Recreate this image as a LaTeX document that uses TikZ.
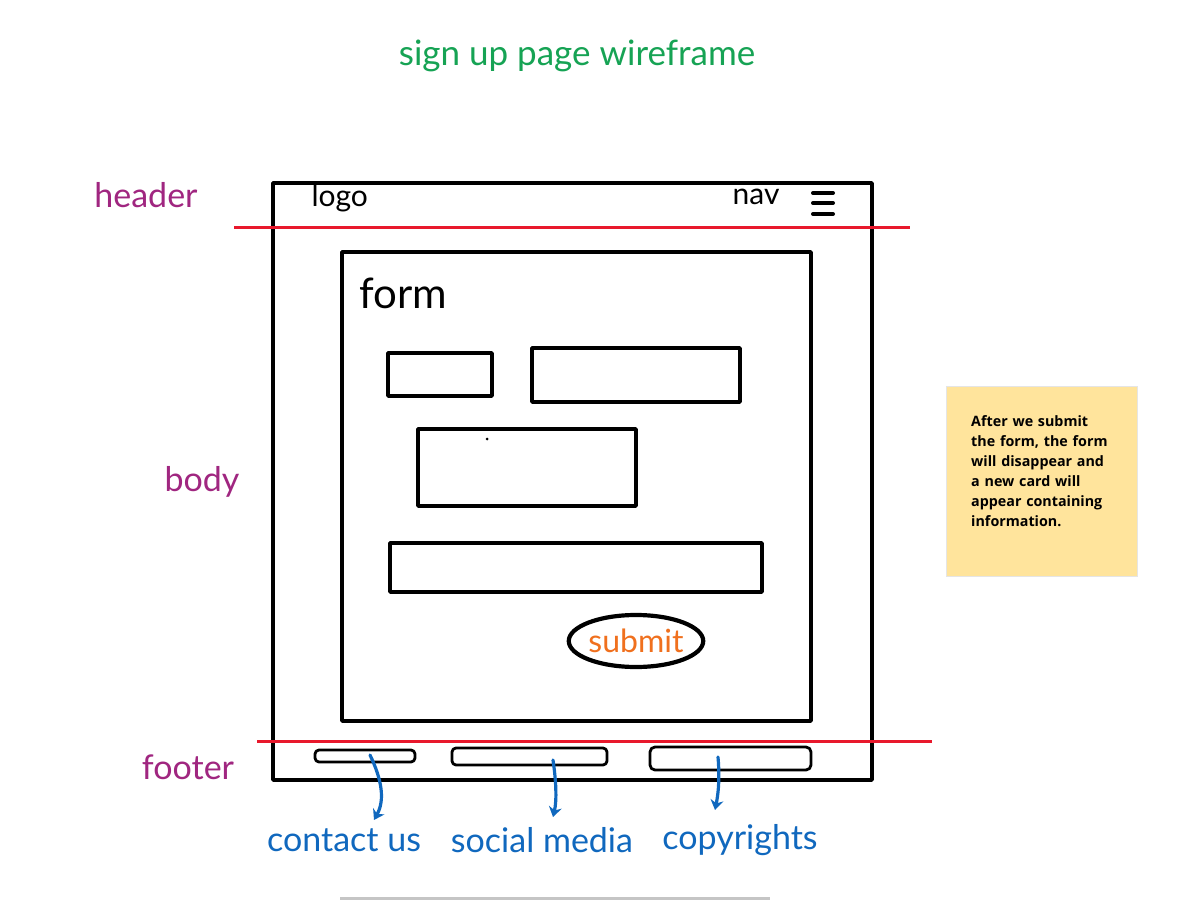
\documentclass[tikz,border=0pt]{standalone}
\usepackage{fontspec}
\setmainfont{Lato}
\newfontfamily\notefont{Open Sans}
\usetikzlibrary{arrows.meta,shapes.geometric,shadows}
\definecolor{titlegreen}{RGB}{22,163,84}
\definecolor{labelpurple}{RGB}{160,38,128}
\definecolor{rulered}{RGB}{232,24,44}
\definecolor{noteblue}{RGB}{16,104,190}
\definecolor{btnorange}{RGB}{240,112,30}
\definecolor{stickyfill}{RGB}{255,228,156}
\tikzset{
  sketch/.style={draw=black,line width=3.6pt,line cap=round,line join=round},
  thinsketch/.style={draw=black,line width=2.8pt,line cap=round,line join=round},
  divider/.style={draw=rulered,line width=3pt},
  side/.style={text=labelpurple,font=\fontsize{34}{34}\selectfont,anchor=center},
  hand/.style={text=black,font=\fontsize{30}{30}\selectfont},
  foot/.style={text=noteblue,font=\fontsize{34}{34}\selectfont},
  pointer/.style={draw=noteblue,line width=3.2pt,line cap=round,-{Stealth[length=10pt,width=13pt]}},
}
\begin{document}
\begin{tikzpicture}[x=1pt,y=-1pt]
\useasboundingbox (0,0) rectangle (1194,904);
\fill[white] (0,0) rectangle (1194,904);

% title
\node[text=titlegreen,font=\fontsize{35}{35}\selectfont] (title) at (577,56) {sign up page wireframe};

% page frame
\draw[sketch] (273,183) rectangle (872,780);

% header content
\node[hand,anchor=west] (logo) at (308,198) {logo};
\node[hand,anchor=east] (nav) at (783,197) {nav};
\draw[sketch,line width=4pt] (813,193) -- (833,193) (813,203) -- (833,203) (813,214) -- (833,214);

% section dividers
\coordinate (hdrL) at (234,228);
\coordinate (hdrR) at (910,228);
\draw[divider] (hdrL) -- (hdrR);
\coordinate (ftrL) at (257,741);
\coordinate (ftrR) at (932,741);
\draw[divider] (ftrL) -- (ftrR);

% section labels
\node[side] (lblheader) at (146,195) {header};
\node[side] (lblbody) at (202,482) {body};
\node[side] (lblfooter) at (188,767) {footer};

% form card
\draw[sketch] (342,252) rectangle (811,721);
\node[hand,font=\fontsize{42}{42}\selectfont,anchor=west] (formtitle) at (356,293) {form};

% input fields
\draw[sketch] (388,353) rectangle (492,396);
\draw[sketch] (532,348) rectangle (740,402);
\draw[sketch] (418,429) rectangle (636,506);
\fill (487,439) circle (1.5pt);
\draw[sketch] (390,543) rectangle (762,592);

% submit button
\node[ellipse,draw=black,line width=4.2pt,minimum width=122pt,minimum height=52pt,
      text=btnorange,font=\fontsize{32}{32}\selectfont,inner sep=0pt] (submit) at (636,641) {submit};

% footer links
\draw[thinsketch,rounded corners=4pt] (315,750) rectangle (415,762);
\draw[thinsketch,rounded corners=4pt] (452,748) rectangle (607,765);
\draw[thinsketch,rounded corners=5pt] (650,747) rectangle (811,770);
\coordinate (linkA) at (370,755);
\coordinate (linkB) at (553,760);
\coordinate (linkC) at (718,757);

\node[foot] (contact) at (344,840) {contact us};
\node[foot] (social) at (542,840) {social media};
\node[foot] (copy) at (740,840) {copyrights};

\draw[pointer] (linkA) .. controls (382,780) and (385,800) .. (374,820);
\draw[pointer] (linkB) .. controls (556,780) and (557,800) .. (553,817);
\draw[pointer] (linkC) .. controls (720,780) and (718,795) .. (715,810);

% sticky note
\node[fill=stickyfill,draw=black!10,line width=0.6pt,minimum width=191pt,minimum height=190pt,
      anchor=north west,inner sep=0pt] (sticky) at (946,386) {};
\node[anchor=north west,align=left,text width=165pt,inner sep=0pt,
      font=\notefont\bfseries\fontsize{14.3}{20}\selectfont] (stickytext) at (971,415)
  {After we submit\\the form, the form\\will disappear and\\a new card will\\appear containing\\information.};

% card edge peeking in at the bottom
\node[fill=white,minimum width=430pt,minimum height=20pt,anchor=north west,inner sep=0pt,
      drop shadow={shadow xshift=0pt,shadow yshift=3pt,opacity=0.45}] (nextcard) at (340,900) {};
\end{tikzpicture}
\end{document}
